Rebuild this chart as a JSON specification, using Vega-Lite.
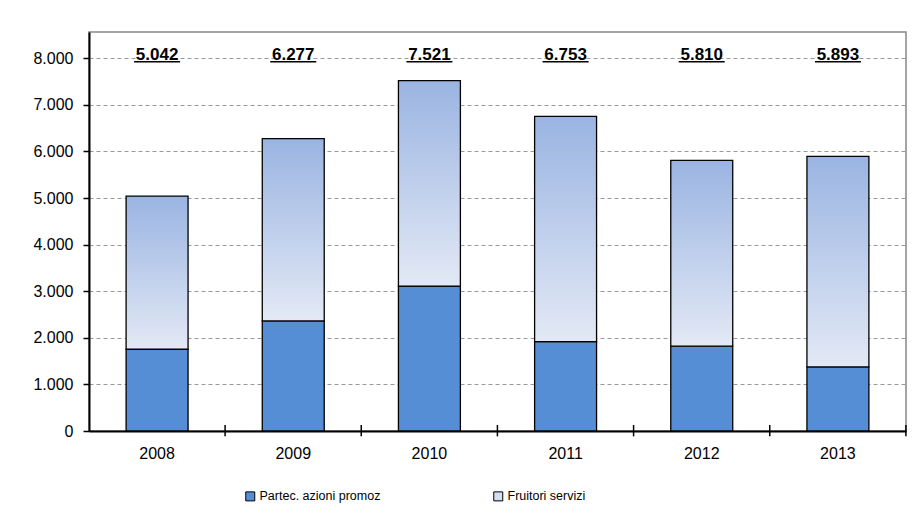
{
  "$schema": "https://vega.github.io/schema/vega-lite/v6.json",
  "width": 817,
  "height": 399,
  "autosize": {"type": "none"},
  "padding": {"left": 89, "top": 32, "right": 11, "bottom": 88},
  "background": "white",
  "config": {
    "locale": {"number": {"decimal": ",", "thousands": ".", "grouping": [3], "currency": ["€", ""]}},
    "font": "Liberation Sans",
    "view": {"stroke": "#888888", "strokeWidth": 1.5},
    "axis": {"labelFont": "Liberation Sans", "labelColor": "#000000", "titleFont": "Liberation Sans"},
    "legend": {"labelFont": "Liberation Sans"}
  },
  "data": {
    "values": [
      {"anno": "2008", "partec": 1755, "fruitori": 3287, "totale": 5042},
      {"anno": "2009", "partec": 2363, "fruitori": 3914, "totale": 6277},
      {"anno": "2010", "partec": 3110, "fruitori": 4411, "totale": 7521},
      {"anno": "2011", "partec": 1920, "fruitori": 4833, "totale": 6753},
      {"anno": "2012", "partec": 1820, "fruitori": 3990, "totale": 5810},
      {"anno": "2013", "partec": 1375, "fruitori": 4518, "totale": 5893}
    ]
  },
  "encoding": {
    "x": {
      "field": "anno",
      "type": "nominal",
      "sort": null,
      "scale": {"paddingInner": 0.545, "paddingOuter": 0.2725},
      "axis": {
        "title": null,
        "labelAngle": 0,
        "labelFontSize": 16,
        "labelPadding": 14,
        "domainColor": "#000000",
        "domainWidth": 2,
        "ticks": false,
        "grid": false
      }
    }
  },
  "layer": [
    {
      "mark": {"type": "bar", "fill": "white", "stroke": null, "width": {"band": 0.455}},
      "encoding": {
        "y": {
          "datum": 7850,
          "type": "quantitative",
          "scale": {"domain": [0, 8565], "nice": false},
          "axis": {
            "title": null,
            "values": [0, 1000, 2000, 3000, 4000, 5000, 6000, 7000, 8000],
            "format": ",d",
            "labelFontSize": 16,
            "labelPadding": 10,
            "domainColor": "#000000",
            "domainWidth": 2,
            "tickColor": "#000000",
            "tickWidth": 1.5,
            "tickSize": 6,
            "grid": true,
            "gridColor": "#999999",
            "gridDash": [4, 3],
            "gridWidth": 1
          }
        },
        "y2": {"datum": 8180}
      }
    },
    {
      "mark": {"type": "text", "font": "Liberation Sans", "fontWeight": "bold", "fontSize": 17, "baseline": "alphabetic", "color": "#000000"},
      "encoding": {
        "y": {"datum": 7960, "type": "quantitative"},
        "text": {"field": "totale", "type": "quantitative", "format": ",d"}
      }
    },
    {
      "mark": {"type": "rule", "color": "#000000", "strokeWidth": 1.5, "xOffset": -23, "x2Offset": 23},
      "encoding": {
        "x2": {"field": "anno"},
        "y": {"datum": 7925, "type": "quantitative"}
      }
    },
    {
      "mark": {"type": "rule", "color": "#000000", "strokeWidth": 1.5, "xOffset": 68},
      "encoding": {
        "y": {"datum": -115, "type": "quantitative"},
        "y2": {"datum": 130}
      }
    },
    {
      "mark": {"type": "bar", "stroke": "#000000", "strokeWidth": 1.3, "width": {"band": 1}},
      "encoding": {
        "y": {"field": "partec", "type": "quantitative"},
        "y2": {"datum": 0},
        "fill": {
          "datum": "Partec. azioni promoz",
          "scale": {"domain": ["Partec. azioni promoz", "Fruitori servizi"], "range": ["#558ED5", "#D3DEF1"]},
          "legend": {
            "title": null,
            "orient": "none",
            "direction": "horizontal",
            "legendX": 155,
            "legendY": 458,
            "padding": 0,
            "symbolType": "square",
            "symbolSize": 81,
            "symbolStrokeColor": "#000000",
            "symbolStrokeWidth": 1,
            "symbolOpacity": 1,
            "labelFontSize": 12.5,
            "labelColor": "#000000",
            "labelOffset": 3,
            "columnPadding": 110
          }
        }
      }
    },
    {
      "mark": {
        "type": "bar",
        "stroke": "#000000",
        "strokeWidth": 1.3,
        "width": {"band": 1},
        "fill": {
          "gradient": "linear",
          "x1": 0, "y1": 1, "x2": 0, "y2": 0,
          "stops": [
            {"offset": 0, "color": "#E3E9F5"},
            {"offset": 1, "color": "#9AB4E2"}
          ]
        }
      },
      "encoding": {
        "y": {"field": "totale", "type": "quantitative"},
        "y2": {"field": "partec"}
      }
    }
  ]
}
